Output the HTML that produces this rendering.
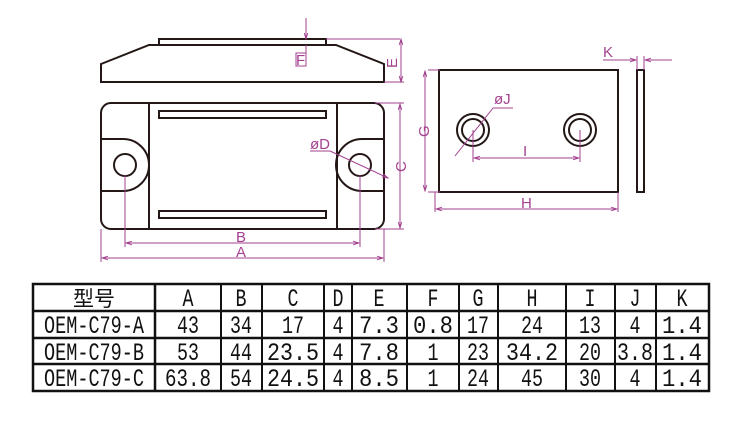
<!DOCTYPE html>
<html><head><meta charset="utf-8"><style>
html,body{margin:0;padding:0;background:#fff;}
svg{display:block}
.k{stroke:#231815;stroke-width:2;fill:none}
.m{stroke:#a3418f;stroke-width:1;fill:none}
.mt{fill:#a3418f;font-family:"Liberation Sans",sans-serif;font-size:15px}
.t{font-family:"Liberation Mono","Noto Sans CJK SC",monospace;font-size:25px;fill:#111}
</style></head><body>
<svg width="750" height="424" viewBox="0 0 750 424" xmlns="http://www.w3.org/2000/svg">
<defs>
<marker id="a" viewBox="0 0 10 10" refX="10" refY="5" markerWidth="8" markerHeight="6" orient="auto-start-reverse"><path d="M0,2 L10,5 L0,8" fill="none" stroke="#a3418f" stroke-width="1.5"/></marker>
</defs>
<!-- side view -->
<rect x="159" y="39" width="167" height="6" class="k" stroke-width="1.5"/>
<path d="M101,82 L101,64 L149,45 L336,45 L384,64 L384,82 Z" class="k"/>
<line x1="306" y1="18" x2="306" y2="39" class="m" marker-end="url(#a)"/>
<line x1="306" y1="45" x2="306" y2="66" class="m"/>
<line x1="326" y1="39" x2="400" y2="39" class="m"/>
<rect x="296" y="53" width="10" height="13" class="m"/>
<text x="296" y="65" class="mt">F</text>
<line x1="384" y1="82" x2="404" y2="82" class="m"/>
<line x1="401" y1="39" x2="401" y2="82" class="m" marker-start="url(#a)" marker-end="url(#a)"/>
<text x="397" y="68" class="mt" transform="rotate(-90 397 68)">E</text>
<!-- top view -->
<rect x="101" y="103" width="283" height="126" rx="10" class="k"/>
<line x1="149" y1="103" x2="149" y2="229" class="k"/>
<line x1="337" y1="103" x2="337" y2="229" class="k"/>
<rect x="159" y="111" width="167" height="7" class="k"/>
<rect x="159" y="211" width="167" height="7" class="k"/>
<path d="M101,139 L123,139 A26,26 0 0 1 149,165 A26,26 0 0 1 123,191 L101,191" class="k"/>
<path d="M384,139 L362,139 A26,26 0 0 0 336,165 A26,26 0 0 0 362,191 L384,191" class="k"/>
<circle cx="125" cy="165" r="11" class="k"/>
<circle cx="360" cy="165" r="11" class="k"/>
<line x1="310" y1="151" x2="330" y2="151" class="m"/>
<line x1="330" y1="151" x2="388" y2="178" class="m" marker-end="url(#a)"/>
<text x="310" y="149" class="mt">øD</text>
<line x1="375" y1="103" x2="404" y2="103" class="m"/>
<line x1="375" y1="229" x2="404" y2="229" class="m"/>
<line x1="400" y1="104" x2="400" y2="228" class="m" marker-start="url(#a)" marker-end="url(#a)"/>
<text x="406" y="172" class="mt" transform="rotate(-90 406 172)">C</text>
<line x1="125" y1="175" x2="125" y2="247" class="m"/>
<line x1="360" y1="175" x2="360" y2="247" class="m"/>
<line x1="126" y1="243" x2="359" y2="243" class="m" marker-start="url(#a)" marker-end="url(#a)"/>
<text x="236" y="242" class="mt">B</text>
<line x1="101" y1="229" x2="101" y2="262" class="m"/>
<line x1="384" y1="229" x2="384" y2="262" class="m"/>
<line x1="102" y1="258" x2="383" y2="258" class="m" marker-start="url(#a)" marker-end="url(#a)"/>
<text x="236" y="257" class="mt">A</text>
<!-- plate -->
<rect x="439" y="70" width="179" height="122" class="k" stroke-width="1.8"/>
<circle cx="473" cy="130" r="16" class="k" stroke-width="1.5"/>
<circle cx="473" cy="130" r="11" class="k" stroke-width="1.5"/>
<circle cx="580" cy="130" r="16" class="k" stroke-width="1.5"/>
<circle cx="580" cy="130" r="11" class="k" stroke-width="1.5"/>
<line x1="455" y1="156" x2="493" y2="108" class="m"/>
<line x1="493" y1="108" x2="513" y2="108" class="m"/>
<text x="494" y="104" class="mt">øJ</text>
<line x1="473" y1="130" x2="473" y2="162" class="m"/>
<line x1="580" y1="130" x2="580" y2="162" class="m"/>
<line x1="474" y1="158" x2="579" y2="158" class="m" marker-start="url(#a)" marker-end="url(#a)"/>
<text x="523" y="156" class="mt">I</text>
<line x1="428" y1="70" x2="440" y2="70" class="m"/>
<line x1="428" y1="192" x2="440" y2="192" class="m"/>
<line x1="425" y1="71" x2="425" y2="191" class="m" marker-start="url(#a)" marker-end="url(#a)"/>
<text x="429" y="137" class="mt" transform="rotate(-90 429 137)">G</text>
<line x1="435" y1="192" x2="435" y2="212" class="m"/>
<line x1="618" y1="192" x2="618" y2="212" class="m"/>
<line x1="436" y1="209" x2="617" y2="209" class="m" marker-start="url(#a)" marker-end="url(#a)"/>
<text x="521" y="208" class="mt">H</text>
<rect x="637" y="70" width="7" height="122" class="k" stroke-width="1.8"/>
<line x1="637" y1="56" x2="637" y2="70" class="m"/>
<line x1="644" y1="56" x2="644" y2="70" class="m"/>
<line x1="603" y1="60" x2="636" y2="60" class="m" marker-end="url(#a)"/>
<line x1="672" y1="60" x2="645" y2="60" class="m" marker-end="url(#a)"/>
<text x="603" y="57" class="mt">K</text>
<!-- table -->
<g stroke="#111" fill="none">
<rect x="33" y="284" width="676" height="107" stroke-width="2.5"/>
<line x1="33" y1="311" x2="709" y2="311" stroke-width="2.5"/>
<line x1="33" y1="338" x2="709" y2="338" stroke-width="2.5"/>
<line x1="33" y1="364" x2="709" y2="364" stroke-width="2.5"/>
<line x1="155" y1="284" x2="155" y2="391" stroke-width="2.5"/>
<line x1="221" y1="284" x2="221" y2="391" stroke-width="2"/>
<line x1="262" y1="284" x2="262" y2="391" stroke-width="2"/>
<line x1="324" y1="284" x2="324" y2="391" stroke-width="2"/>
<line x1="352" y1="284" x2="352" y2="391" stroke-width="2"/>
<line x1="407" y1="284" x2="407" y2="391" stroke-width="2"/>
<line x1="459" y1="284" x2="459" y2="391" stroke-width="2"/>
<line x1="498" y1="284" x2="498" y2="391" stroke-width="2"/>
<line x1="566" y1="284" x2="566" y2="391" stroke-width="2"/>
<line x1="615" y1="284" x2="615" y2="391" stroke-width="2"/>
<line x1="656" y1="284" x2="656" y2="391" stroke-width="2"/>
</g>
<g class="t" text-anchor="middle">
<text x="94" y="306" font-size="21">型号</text>
<text x="188" y="306" textLength="11" lengthAdjust="spacingAndGlyphs">A</text><text x="241" y="306" textLength="11" lengthAdjust="spacingAndGlyphs">B</text><text x="293" y="306" textLength="11" lengthAdjust="spacingAndGlyphs">C</text><text x="338" y="306" textLength="11" lengthAdjust="spacingAndGlyphs">D</text><text x="379" y="306" textLength="11" lengthAdjust="spacingAndGlyphs">E</text><text x="433" y="306" textLength="11" lengthAdjust="spacingAndGlyphs">F</text><text x="478" y="306" textLength="11" lengthAdjust="spacingAndGlyphs">G</text><text x="532" y="306" textLength="11" lengthAdjust="spacingAndGlyphs">H</text><text x="590" y="306" textLength="11" lengthAdjust="spacingAndGlyphs">I</text><text x="635" y="306" textLength="11" lengthAdjust="spacingAndGlyphs">J</text><text x="682" y="306" textLength="11" lengthAdjust="spacingAndGlyphs">K</text>
</g>
<g class="t" text-anchor="middle">
<text x="94" y="333" textLength="100" lengthAdjust="spacingAndGlyphs">OEM-C79-A</text>
<text x="188" y="333" textLength="22" lengthAdjust="spacingAndGlyphs">43</text><text x="241" y="333" textLength="22" lengthAdjust="spacingAndGlyphs">34</text><text x="293" y="333" textLength="22" lengthAdjust="spacingAndGlyphs">17</text><text x="338" y="333" textLength="11" lengthAdjust="spacingAndGlyphs">4</text><text x="379" y="333" textLength="40" lengthAdjust="spacingAndGlyphs">7.3</text><text x="433" y="333" textLength="40" lengthAdjust="spacingAndGlyphs">0.8</text><text x="478" y="333" textLength="22" lengthAdjust="spacingAndGlyphs">17</text><text x="532" y="333" textLength="22" lengthAdjust="spacingAndGlyphs">24</text><text x="590" y="333" textLength="22" lengthAdjust="spacingAndGlyphs">13</text><text x="635" y="333" textLength="11" lengthAdjust="spacingAndGlyphs">4</text><text x="682" y="333" textLength="40" lengthAdjust="spacingAndGlyphs">1.4</text>
<text x="94" y="360" textLength="100" lengthAdjust="spacingAndGlyphs">OEM-C79-B</text>
<text x="188" y="360" textLength="22" lengthAdjust="spacingAndGlyphs">53</text><text x="241" y="360" textLength="22" lengthAdjust="spacingAndGlyphs">44</text><text x="293" y="360" textLength="52" lengthAdjust="spacingAndGlyphs">23.5</text><text x="338" y="360" textLength="11" lengthAdjust="spacingAndGlyphs">4</text><text x="379" y="360" textLength="40" lengthAdjust="spacingAndGlyphs">7.8</text><text x="433" y="360" textLength="11" lengthAdjust="spacingAndGlyphs">1</text><text x="478" y="360" textLength="22" lengthAdjust="spacingAndGlyphs">23</text><text x="532" y="360" textLength="52" lengthAdjust="spacingAndGlyphs">34.2</text><text x="590" y="360" textLength="22" lengthAdjust="spacingAndGlyphs">20</text><text x="635" y="360" textLength="36" lengthAdjust="spacingAndGlyphs">3.8</text><text x="682" y="360" textLength="40" lengthAdjust="spacingAndGlyphs">1.4</text>
<text x="94" y="386" textLength="100" lengthAdjust="spacingAndGlyphs">OEM-C79-C</text>
<text x="188" y="386" textLength="46" lengthAdjust="spacingAndGlyphs">63.8</text><text x="241" y="386" textLength="22" lengthAdjust="spacingAndGlyphs">54</text><text x="293" y="386" textLength="52" lengthAdjust="spacingAndGlyphs">24.5</text><text x="338" y="386" textLength="11" lengthAdjust="spacingAndGlyphs">4</text><text x="379" y="386" textLength="40" lengthAdjust="spacingAndGlyphs">8.5</text><text x="433" y="386" textLength="11" lengthAdjust="spacingAndGlyphs">1</text><text x="478" y="386" textLength="22" lengthAdjust="spacingAndGlyphs">24</text><text x="532" y="386" textLength="22" lengthAdjust="spacingAndGlyphs">45</text><text x="590" y="386" textLength="22" lengthAdjust="spacingAndGlyphs">30</text><text x="635" y="386" textLength="11" lengthAdjust="spacingAndGlyphs">4</text><text x="682" y="386" textLength="40" lengthAdjust="spacingAndGlyphs">1.4</text>
</g>
</svg>
</body></html>
